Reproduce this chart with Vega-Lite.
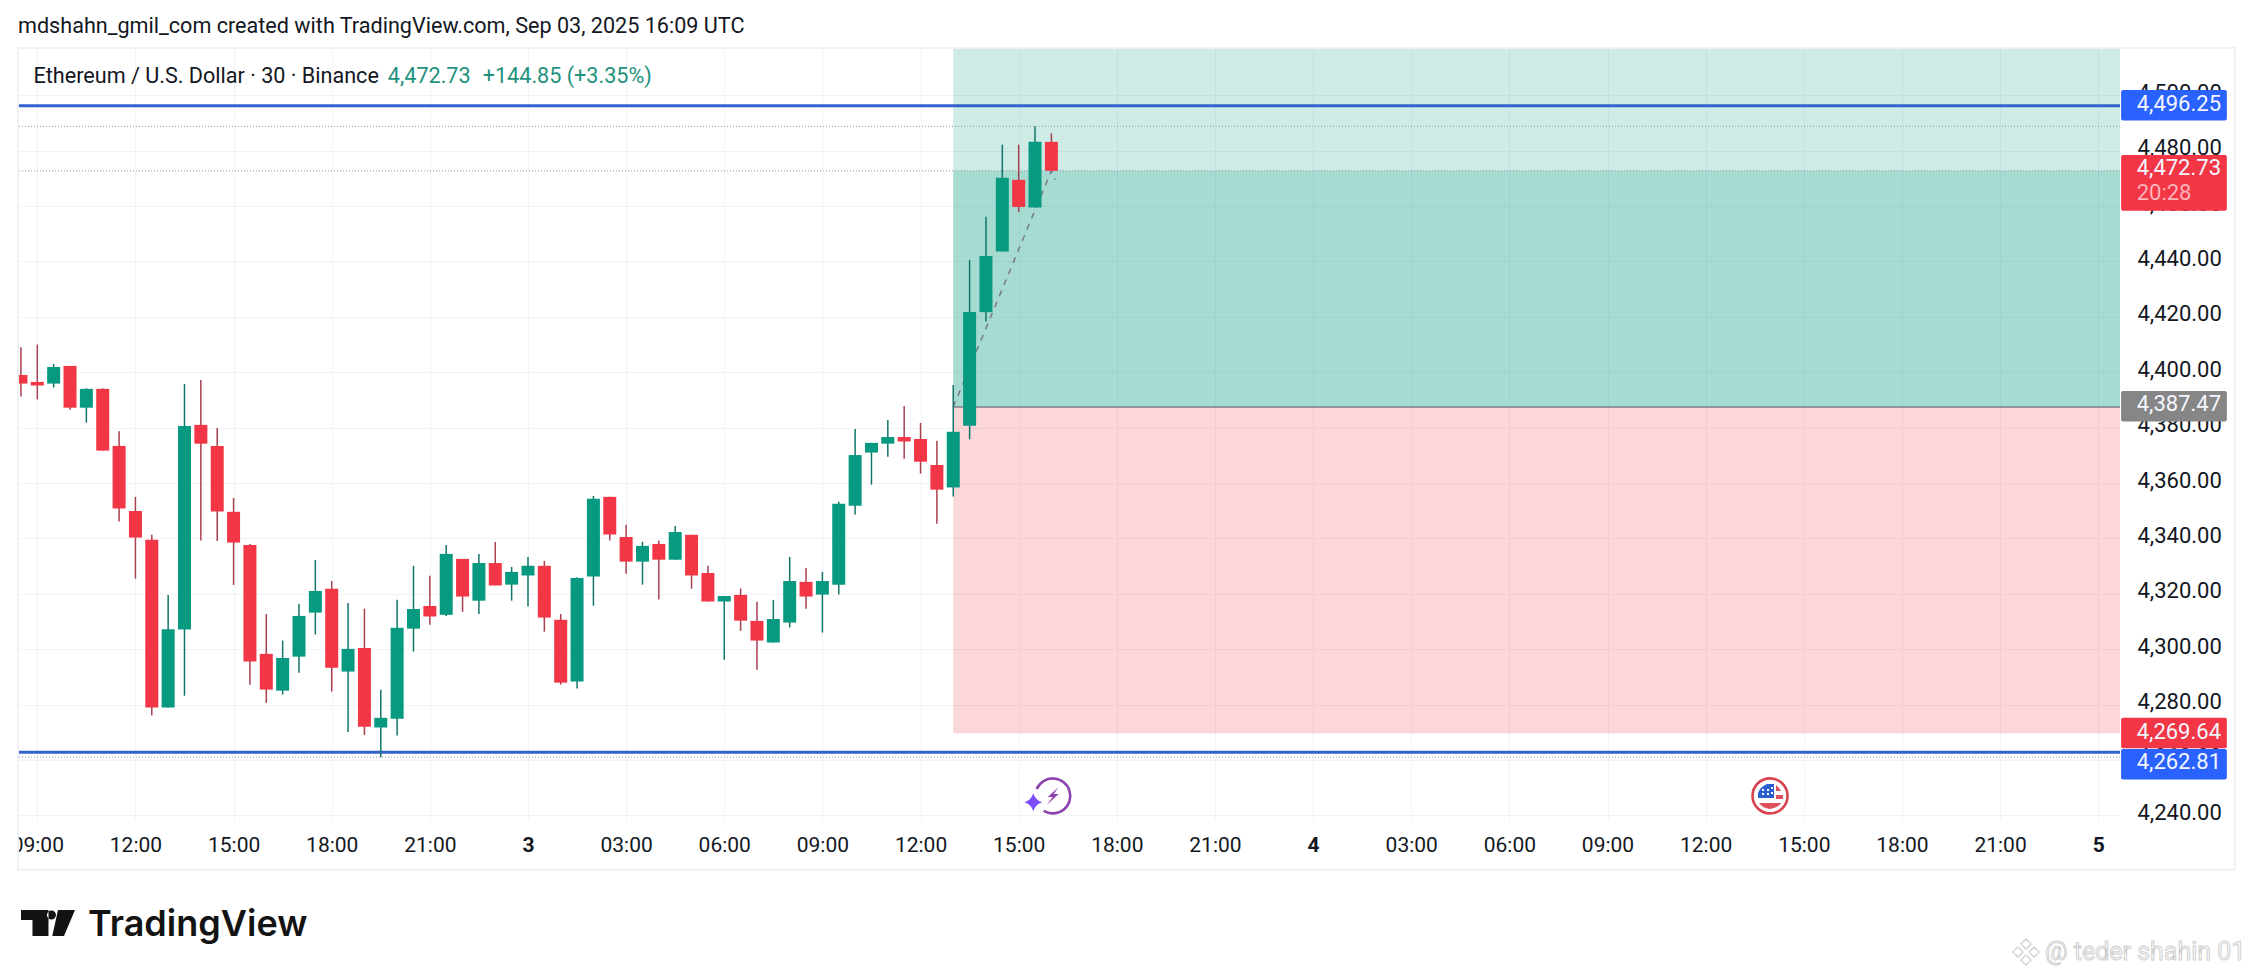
{
  "$schema": "https://vega.github.io/schema/vega-lite/v6.json",
  "description": "ETH/USD 30 minute candles with long position zones",
  "width": 2102,
  "height": 772,
  "autosize": {"type": "none"},
  "padding": {"left": 18, "top": 48, "right": 133, "bottom": 158},
  "background": "#ffffff",
  "title": {"text": "mdshahn_gmil_com created with TradingView.com, Sep 03, 2025 16:09 UTC", "anchor": "start", "frame": "group", "offset": 9, "font": "Roboto", "fontSize": 21.6, "fontWeight": "normal", "color": "#131722"},
  "config": {"view": {"stroke": null}, "font": "Roboto"},
  "resolve": {"scale": {"color": "independent"}},
  "datasets": {
    "zones": [
      {"t": "2025-09-03T13:00:00Z", "t2": "2025-09-05T00:40:00Z", "p": 4387.47, "p2": 4517.1, "zone": "target"},
      {"t": "2025-09-03T13:00:00Z", "t2": "2025-09-05T00:40:00Z", "p": 4387.47, "p2": 4472.73, "zone": "target"},
      {"t": "2025-09-03T13:00:00Z", "t2": "2025-09-05T00:40:00Z", "p": 4269.64, "p2": 4387.47, "zone": "stop"}
    ],
    "levels": [{"p": 4496.25}, {"p": 4262.81}],
    "dotted": [{"p": 4488.8}, {"p": 4472.73}, {"p": 4261.0}],
    "entry": [{"t": "2025-09-03T13:00:00Z", "t2": "2025-09-05T00:40:00Z", "p": 4387.47}],
    "arrow": [
      {"t": "2025-09-03T13:00:00Z", "p": 4387.47},
      {"t": "2025-09-03T16:00:00Z", "p": 4472.73},
      {"t": "2025-09-03T16:07:00Z", "p": 4469.5}
    ],
    "candles": [
      {"t": "2025-09-02T08:30:00Z", "open": 4399.0, "close": 4395.9, "high": 4409.0, "low": 4391.2, "dir": "down"},
      {"t": "2025-09-02T09:00:00Z", "open": 4396.5, "close": 4395.2, "high": 4410.0, "low": 4390.2, "dir": "down"},
      {"t": "2025-09-02T09:30:00Z", "open": 4395.9, "close": 4401.9, "high": 4403.0, "low": 4394.5, "dir": "up"},
      {"t": "2025-09-02T10:00:00Z", "open": 4402.3, "close": 4387.2, "high": 4402.3, "low": 4386.5, "dir": "down"},
      {"t": "2025-09-02T10:30:00Z", "open": 4387.2, "close": 4394.0, "high": 4394.2, "low": 4381.8, "dir": "up"},
      {"t": "2025-09-02T11:00:00Z", "open": 4394.0, "close": 4371.7, "high": 4394.2, "low": 4371.7, "dir": "down"},
      {"t": "2025-09-02T11:30:00Z", "open": 4373.4, "close": 4350.8, "high": 4378.7, "low": 4346.1, "dir": "down"},
      {"t": "2025-09-02T12:00:00Z", "open": 4349.9, "close": 4340.3, "high": 4355.0, "low": 4325.5, "dir": "down"},
      {"t": "2025-09-02T12:30:00Z", "open": 4339.5, "close": 4278.9, "high": 4341.3, "low": 4276.0, "dir": "down"},
      {"t": "2025-09-02T13:00:00Z", "open": 4278.9, "close": 4307.2, "high": 4319.6, "low": 4278.9, "dir": "up"},
      {"t": "2025-09-02T13:30:00Z", "open": 4307.1, "close": 4380.6, "high": 4395.8, "low": 4283.2, "dir": "up"},
      {"t": "2025-09-02T14:00:00Z", "open": 4381.0, "close": 4374.2, "high": 4397.2, "low": 4339.2, "dir": "down"},
      {"t": "2025-09-02T14:30:00Z", "open": 4373.4, "close": 4349.7, "high": 4379.9, "low": 4339.1, "dir": "down"},
      {"t": "2025-09-02T15:00:00Z", "open": 4349.6, "close": 4338.5, "high": 4354.6, "low": 4323.2, "dir": "down"},
      {"t": "2025-09-02T15:30:00Z", "open": 4337.6, "close": 4295.5, "high": 4338.0, "low": 4287.1, "dir": "down"},
      {"t": "2025-09-02T16:00:00Z", "open": 4298.3, "close": 4285.4, "high": 4312.7, "low": 4280.6, "dir": "down"},
      {"t": "2025-09-02T16:30:00Z", "open": 4285.0, "close": 4296.8, "high": 4303.1, "low": 4283.6, "dir": "up"},
      {"t": "2025-09-02T17:00:00Z", "open": 4297.3, "close": 4312.0, "high": 4316.3, "low": 4291.5, "dir": "up"},
      {"t": "2025-09-02T17:30:00Z", "open": 4313.2, "close": 4321.0, "high": 4332.2, "low": 4305.3, "dir": "up"},
      {"t": "2025-09-02T18:00:00Z", "open": 4321.8, "close": 4293.3, "high": 4324.6, "low": 4284.7, "dir": "down"},
      {"t": "2025-09-02T18:30:00Z", "open": 4291.9, "close": 4300.1, "high": 4316.7, "low": 4270.1, "dir": "up"},
      {"t": "2025-09-02T19:00:00Z", "open": 4300.4, "close": 4272.0, "high": 4314.6, "low": 4269.0, "dir": "down"},
      {"t": "2025-09-02T19:30:00Z", "open": 4271.7, "close": 4275.2, "high": 4285.3, "low": 4261.0, "dir": "up"},
      {"t": "2025-09-02T20:00:00Z", "open": 4274.9, "close": 4307.7, "high": 4317.8, "low": 4268.8, "dir": "up"},
      {"t": "2025-09-02T20:30:00Z", "open": 4307.4, "close": 4314.5, "high": 4330.1, "low": 4299.1, "dir": "up"},
      {"t": "2025-09-02T21:00:00Z", "open": 4315.6, "close": 4311.8, "high": 4326.5, "low": 4308.8, "dir": "down"},
      {"t": "2025-09-02T21:30:00Z", "open": 4312.4, "close": 4334.4, "high": 4337.6, "low": 4312.0, "dir": "up"},
      {"t": "2025-09-02T22:00:00Z", "open": 4332.6, "close": 4319.0, "high": 4332.6, "low": 4313.5, "dir": "down"},
      {"t": "2025-09-02T22:30:00Z", "open": 4317.5, "close": 4331.1, "high": 4334.4, "low": 4312.7, "dir": "up"},
      {"t": "2025-09-02T23:00:00Z", "open": 4331.1, "close": 4323.0, "high": 4338.7, "low": 4323.0, "dir": "down"},
      {"t": "2025-09-02T23:30:00Z", "open": 4323.3, "close": 4327.9, "high": 4329.7, "low": 4317.5, "dir": "up"},
      {"t": "2025-09-03T00:00:00Z", "open": 4326.6, "close": 4330.1, "high": 4333.3, "low": 4315.4, "dir": "up"},
      {"t": "2025-09-03T00:30:00Z", "open": 4330.1, "close": 4311.4, "high": 4331.9, "low": 4306.3, "dir": "down"},
      {"t": "2025-09-03T01:00:00Z", "open": 4310.6, "close": 4287.9, "high": 4312.7, "low": 4287.2, "dir": "down"},
      {"t": "2025-09-03T01:30:00Z", "open": 4288.3, "close": 4325.7, "high": 4326.0, "low": 4285.8, "dir": "up"},
      {"t": "2025-09-03T02:00:00Z", "open": 4326.2, "close": 4354.3, "high": 4355.3, "low": 4315.7, "dir": "up"},
      {"t": "2025-09-03T02:30:00Z", "open": 4355.0, "close": 4341.4, "high": 4355.0, "low": 4339.2, "dir": "down"},
      {"t": "2025-09-03T03:00:00Z", "open": 4340.5, "close": 4331.6, "high": 4344.9, "low": 4327.2, "dir": "down"},
      {"t": "2025-09-03T03:30:00Z", "open": 4331.6, "close": 4337.3, "high": 4338.8, "low": 4323.3, "dir": "up"},
      {"t": "2025-09-03T04:00:00Z", "open": 4338.0, "close": 4332.3, "high": 4339.2, "low": 4317.9, "dir": "down"},
      {"t": "2025-09-03T04:30:00Z", "open": 4332.3, "close": 4342.3, "high": 4344.5, "low": 4332.3, "dir": "up"},
      {"t": "2025-09-03T05:00:00Z", "open": 4341.3, "close": 4326.6, "high": 4341.3, "low": 4321.8, "dir": "down"},
      {"t": "2025-09-03T05:30:00Z", "open": 4327.5, "close": 4317.2, "high": 4330.1, "low": 4317.2, "dir": "down"},
      {"t": "2025-09-03T06:00:00Z", "open": 4317.2, "close": 4319.2, "high": 4319.2, "low": 4296.2, "dir": "up"},
      {"t": "2025-09-03T06:30:00Z", "open": 4319.6, "close": 4310.3, "high": 4321.9, "low": 4306.6, "dir": "down"},
      {"t": "2025-09-03T07:00:00Z", "open": 4310.2, "close": 4303.1, "high": 4317.1, "low": 4292.6, "dir": "down"},
      {"t": "2025-09-03T07:30:00Z", "open": 4302.4, "close": 4310.9, "high": 4317.8, "low": 4302.4, "dir": "up"},
      {"t": "2025-09-03T08:00:00Z", "open": 4309.6, "close": 4324.6, "high": 4333.3, "low": 4307.8, "dir": "up"},
      {"t": "2025-09-03T08:30:00Z", "open": 4324.3, "close": 4319.0, "high": 4329.3, "low": 4314.6, "dir": "down"},
      {"t": "2025-09-03T09:00:00Z", "open": 4319.7, "close": 4324.6, "high": 4327.9, "low": 4306.0, "dir": "up"},
      {"t": "2025-09-03T09:30:00Z", "open": 4323.3, "close": 4352.5, "high": 4353.2, "low": 4319.7, "dir": "up"},
      {"t": "2025-09-03T10:00:00Z", "open": 4351.8, "close": 4370.1, "high": 4379.5, "low": 4348.6, "dir": "up"},
      {"t": "2025-09-03T10:30:00Z", "open": 4371.0, "close": 4374.5, "high": 4374.5, "low": 4359.4, "dir": "up"},
      {"t": "2025-09-03T11:00:00Z", "open": 4374.2, "close": 4376.6, "high": 4382.8, "low": 4369.5, "dir": "up"},
      {"t": "2025-09-03T11:30:00Z", "open": 4376.6, "close": 4375.0, "high": 4387.8, "low": 4368.8, "dir": "down"},
      {"t": "2025-09-03T12:00:00Z", "open": 4375.9, "close": 4367.7, "high": 4381.7, "low": 4363.4, "dir": "down"},
      {"t": "2025-09-03T12:30:00Z", "open": 4366.5, "close": 4357.6, "high": 4375.3, "low": 4345.3, "dir": "down"},
      {"t": "2025-09-03T13:00:00Z", "open": 4358.4, "close": 4378.5, "high": 4395.4, "low": 4355.1, "dir": "up"},
      {"t": "2025-09-03T13:30:00Z", "open": 4380.7, "close": 4421.8, "high": 4440.6, "low": 4375.8, "dir": "up"},
      {"t": "2025-09-03T14:00:00Z", "open": 4421.7, "close": 4442.0, "high": 4456.2, "low": 4418.3, "dir": "up"},
      {"t": "2025-09-03T14:30:00Z", "open": 4443.6, "close": 4470.2, "high": 4482.2, "low": 4443.6, "dir": "up"},
      {"t": "2025-09-03T15:00:00Z", "open": 4469.5, "close": 4459.7, "high": 4482.2, "low": 4457.9, "dir": "down"},
      {"t": "2025-09-03T15:30:00Z", "open": 4459.5, "close": 4483.2, "high": 4488.8, "low": 4459.5, "dir": "up"},
      {"t": "2025-09-03T16:00:00Z", "open": 4483.2, "close": 4472.73, "high": 4486.3, "low": 4472.73, "dir": "down"}
    ],
    "tags": [
      {"t": "2025-09-05T00:42:00Z", "t2": "2025-09-05T03:56:00Z", "p": 4490.9, "p2": 4501.9, "tag": "blue"},
      {"t": "2025-09-05T00:42:00Z", "t2": "2025-09-05T03:56:00Z", "p": 4458.3, "p2": 4478.5, "tag": "red"},
      {"t": "2025-09-05T00:42:00Z", "t2": "2025-09-05T03:56:00Z", "p": 4382.2, "p2": 4393.2, "tag": "grey"},
      {"t": "2025-09-05T00:42:00Z", "t2": "2025-09-05T03:56:00Z", "p": 4264.2, "p2": 4275.2, "tag": "red"},
      {"t": "2025-09-05T00:42:00Z", "t2": "2025-09-05T03:56:00Z", "p": 4252.9, "p2": 4263.9, "tag": "blue"}
    ],
    "notes": [
      {"t": "2025-09-05T01:10:36Z", "p": 4497.0, "note": "4,496.25", "kind": "white"},
      {"t": "2025-09-05T01:10:36Z", "p": 4473.8, "note": "4,472.73", "kind": "white"},
      {"t": "2025-09-05T01:10:36Z", "p": 4464.6, "note": "20:28", "kind": "pink"},
      {"t": "2025-09-05T01:10:36Z", "p": 4388.5, "note": "4,387.47", "kind": "white"},
      {"t": "2025-09-05T01:10:36Z", "p": 4270.2, "note": "4,269.64", "kind": "white"},
      {"t": "2025-09-05T01:10:36Z", "p": 4259.2, "note": "4,262.81", "kind": "white"}
    ],
    "legendNotes": [
      {"t": "2025-09-02T08:53:00Z", "p": 4506.8, "note": "Ethereum / U.S. Dollar · 30 · Binance", "kind": "dark"},
      {"t": "2025-09-02T19:43:00Z", "p": 4506.8, "note": "4,472.73", "kind": "green"},
      {"t": "2025-09-02T22:37:00Z", "p": 4506.8, "note": "+144.85 (+3.35%)", "kind": "green"}
    ],
    "mask": [{"t": "2025-09-02T07:50:00Z", "t2": "2025-09-02T08:24:36Z", "p": 4220.3, "p2": 4238.3}],
    "frame": [{"t": "2025-09-02T08:24:36Z", "t2": "2025-09-05T04:11:00Z", "p": 4220.3, "p2": 4517.1}],
    "eventIcon": [{"t": "2025-09-03T16:02:24Z", "p": 4247.0}],
    "sparkle": [{"t": "2025-09-03T15:26:48Z", "p": 4244.7}],
    "flagIcon": [{"t": "2025-09-04T13:58:06Z", "p": 4247.0}],
    "logoIcon": [{"t": "2025-09-02T09:19:36Z", "p": 4201.1}],
    "logoText": [{"t": "2025-09-02T10:33:00Z", "p": 4196.4, "note": "TradingView"}],
    "markIcon": [{"t": "2025-09-04T21:47:36Z", "p": 4190.6}],
    "markText": [{"t": "2025-09-04T22:22:36Z", "p": 4190.6, "note": "@ teder shahin 01"}]
  },
  "layer": [
    {
      "data": {"name": "zones"},
      "mark": {"type": "rect", "opacity": 0.2},
      "encoding": {
        "x": {
          "field": "t", "type": "temporal",
          "scale": {"type": "utc", "domain": ["2025-09-02T08:24:36Z", "2025-09-05T00:40:00Z"], "nice": false, "padding": 0},
          "axis": {
            "title": null, "domain": false, "ticks": false, "grid": true, "gridColor": "#f2f3f6", "gridWidth": 1,
            "values": ["2025-09-02T09:00:00Z", "2025-09-02T12:00:00Z", "2025-09-02T15:00:00Z", "2025-09-02T18:00:00Z", "2025-09-02T21:00:00Z", "2025-09-03T00:00:00Z", "2025-09-03T03:00:00Z", "2025-09-03T06:00:00Z", "2025-09-03T09:00:00Z", "2025-09-03T12:00:00Z", "2025-09-03T15:00:00Z", "2025-09-03T18:00:00Z", "2025-09-03T21:00:00Z", "2025-09-04T00:00:00Z", "2025-09-04T03:00:00Z", "2025-09-04T06:00:00Z", "2025-09-04T09:00:00Z", "2025-09-04T12:00:00Z", "2025-09-04T15:00:00Z", "2025-09-04T18:00:00Z", "2025-09-04T21:00:00Z", "2025-09-05T00:00:00Z"],
            "labelExpr": "utchours(datum.value) == 0 ? utcFormat(datum.value, '%-d') : utcFormat(datum.value, '%H:%M')",
            "labelFontWeight": {"expr": "utchours(datum.value) == 0 ? 'bold' : 'normal'"},
            "labelFont": "Roboto", "labelFontSize": 21, "labelColor": "#131722", "labelBaseline": "middle",
            "labelPadding": 25, "labelOverlap": false, "labelBound": false, "labelFlush": false
          }
        },
        "x2": {"field": "t2"},
        "y": {
          "field": "p", "type": "quantitative",
          "scale": {"domain": [4238.3, 4517.1], "nice": false, "zero": false},
          "axis": {
            "title": null, "orient": "right", "domain": false, "ticks": false, "grid": true, "gridColor": "#f2f3f6", "gridWidth": 1,
            "values": [4240, 4260, 4280, 4300, 4320, 4340, 4360, 4380, 4400, 4420, 4440, 4460, 4480, 4500],
            "format": ",.2f", "labelFont": "Roboto", "labelFontSize": 22, "labelColor": "#131722", "labelAlign": "left",
            "labelBaseline": "middle", "labelOffset": -3, "labelPadding": 17, "labelOverlap": false, "labelBound": false, "labelFlush": false
          }
        },
        "y2": {"field": "p2"},
        "color": {"field": "zone", "type": "nominal", "scale": {"domain": ["target", "stop"], "range": ["#089981", "#F23645"]}, "legend": null}
      }
    },
    {
      "data": {"name": "entry"},
      "mark": {"type": "rule", "color": "#7b8187", "strokeWidth": 1.5},
      "encoding": {"x": {"field": "t", "type": "temporal"}, "x2": {"field": "t2"}, "y": {"field": "p", "type": "quantitative"}}
    },
    {
      "data": {"name": "dotted"},
      "mark": {"type": "rule", "color": "#9598a1", "strokeWidth": 1, "strokeDash": [1, 2]},
      "encoding": {"y": {"field": "p", "type": "quantitative"}}
    },
    {
      "data": {"name": "levels"},
      "mark": {"type": "rule", "color": "#3362cf", "strokeWidth": 3},
      "encoding": {"y": {"field": "p", "type": "quantitative"}}
    },
    {
      "data": {"name": "arrow"},
      "mark": {"type": "line", "color": "#787b86", "strokeWidth": 1.5, "strokeDash": [6, 6]},
      "encoding": {"x": {"field": "t", "type": "temporal"}, "y": {"field": "p", "type": "quantitative"}}
    },
    {
      "data": {"name": "candles"},
      "mark": {"type": "rule", "strokeWidth": 1.5, "clip": true},
      "encoding": {
        "x": {"field": "t", "type": "temporal"},
        "y": {"field": "low", "type": "quantitative"},
        "y2": {"field": "high"},
        "color": {"field": "dir", "type": "nominal", "scale": {"domain": ["up", "down"], "range": ["#12756a", "#a8404f"]}, "legend": null}
      }
    },
    {
      "data": {"name": "candles"},
      "mark": {"type": "bar", "size": 13, "clip": true},
      "encoding": {
        "x": {"field": "t", "type": "temporal"},
        "y": {"field": "open", "type": "quantitative"},
        "y2": {"field": "close"},
        "color": {"field": "dir", "type": "nominal", "scale": {"domain": ["up", "down"], "range": ["#089981", "#F23645"]}, "legend": null}
      }
    },
    {
      "data": {"name": "mask"},
      "mark": {"type": "rect", "color": "#ffffff"},
      "encoding": {"x": {"field": "t", "type": "temporal"}, "x2": {"field": "t2"}, "y": {"field": "p", "type": "quantitative"}, "y2": {"field": "p2"}}
    },
    {
      "data": {"name": "frame"},
      "mark": {"type": "rect", "filled": false, "stroke": "#f0f1f5", "strokeWidth": 2},
      "encoding": {"x": {"field": "t", "type": "temporal"}, "x2": {"field": "t2"}, "y": {"field": "p", "type": "quantitative"}, "y2": {"field": "p2"}}
    },
    {
      "data": {"name": "tags"},
      "mark": {"type": "rect", "cornerRadius": 2},
      "encoding": {
        "x": {"field": "t", "type": "temporal"}, "x2": {"field": "t2"}, "y": {"field": "p", "type": "quantitative"}, "y2": {"field": "p2"},
        "color": {"field": "tag", "type": "nominal", "scale": {"domain": ["blue", "red", "grey"], "range": ["#2962FF", "#F23645", "#868686"]}, "legend": null}
      }
    },
    {
      "data": {"name": "notes"},
      "mark": {"type": "text", "font": "Roboto", "fontSize": 22, "align": "left", "baseline": "middle"},
      "encoding": {
        "x": {"field": "t", "type": "temporal"}, "y": {"field": "p", "type": "quantitative"}, "text": {"field": "note"},
        "color": {"field": "kind", "type": "nominal", "scale": {"domain": ["white", "pink"], "range": ["#f4f6ff", "#fbb4ba"]}, "legend": null}
      }
    },
    {
      "data": {"name": "legendNotes"},
      "mark": {"type": "text", "font": "Roboto", "fontSize": 21.6, "align": "left", "baseline": "middle"},
      "encoding": {
        "x": {"field": "t", "type": "temporal"}, "y": {"field": "p", "type": "quantitative"}, "text": {"field": "note"},
        "color": {"field": "kind", "type": "nominal", "scale": {"domain": ["dark", "green"], "range": ["#131722", "#22917d"]}, "legend": null}
      }
    },
    {
      "data": {"name": "eventIcon"},
      "mark": {"type": "point", "filled": false, "size": 4, "stroke": "#8e44ad", "strokeWidth": 2.6, "opacity": 1, "shape": "M-16,-7 A17.5,17.5 0 1 1 -9,15"},
      "encoding": {"x": {"field": "t", "type": "temporal"}, "y": {"field": "p", "type": "quantitative"}}
    },
    {
      "data": {"name": "eventIcon"},
      "mark": {"type": "point", "filled": true, "size": 4, "color": "#8e44ad", "opacity": 1, "shape": "M6,-9 L-5,1 L0,1 L-6,9 L6,-2 L1,-2 Z"},
      "encoding": {"x": {"field": "t", "type": "temporal"}, "y": {"field": "p", "type": "quantitative"}}
    },
    {
      "data": {"name": "sparkle"},
      "mark": {"type": "point", "filled": true, "size": 4, "color": "#7c4dff", "opacity": 1, "shape": "M0,-9 Q2,-2 9,0 Q2,2 0,9 Q-2,2 -9,0 Q-2,-2 0,-9 Z"},
      "encoding": {"x": {"field": "t", "type": "temporal"}, "y": {"field": "p", "type": "quantitative"}}
    },
    {
      "data": {"name": "flagIcon"},
      "mark": {"type": "point", "filled": false, "size": 1225, "shape": "circle", "stroke": "#d9434f", "strokeWidth": 2.6, "opacity": 1},
      "encoding": {"x": {"field": "t", "type": "temporal"}, "y": {"field": "p", "type": "quantitative"}}
    },
    {
      "data": {"name": "flagIcon"},
      "mark": {"type": "point", "filled": true, "size": 4, "color": "#2a5fd0", "opacity": 1, "shape": "M-12,2 L-12,-3 Q-10,-9 -3,-12 L4,-12 L4,2 Z"},
      "encoding": {"x": {"field": "t", "type": "temporal"}, "y": {"field": "p", "type": "quantitative"}}
    },
    {
      "data": {"name": "flagIcon"},
      "mark": {"type": "point", "filled": true, "size": 4, "color": "#ffffff", "opacity": 1, "shape": "M-8,-7h2v2h-2Z M-3,-7h2v2h-2Z M1,-9h2v2h-2Z M-8,-3h2v2h-2Z M-3,-3h2v2h-2Z M1,-4h2v2h-2Z"},
      "encoding": {"x": {"field": "t", "type": "temporal"}, "y": {"field": "p", "type": "quantitative"}}
    },
    {
      "data": {"name": "flagIcon"},
      "mark": {"type": "point", "filled": true, "size": 4, "color": "#e0505c", "opacity": 1, "shape": "M6,-11 L9,-8 L11,-5 L6,-5 Z M6,-1 L13,-1 L13,3 L6,3 Z M-11,7 L11,7 Q8,12 0,13 Q-8,12 -11,7 Z"},
      "encoding": {"x": {"field": "t", "type": "temporal"}, "y": {"field": "p", "type": "quantitative"}}
    },
    {
      "data": {"name": "logoIcon"},
      "mark": {"type": "point", "filled": true, "size": 4, "color": "#131313", "opacity": 1, "shape": "M-27,-13 H0.5 V13 H-15.5 V-3 H-27 Z M-1,-8 a4.5,4.5 0 1 0 9,0 a4.5,4.5 0 1 0 -9,0 Z M10,-13 H27 L16,13 H4.3 Z"},
      "encoding": {"x": {"field": "t", "type": "temporal"}, "y": {"field": "p", "type": "quantitative"}}
    },
    {
      "data": {"name": "logoText"},
      "mark": {"type": "text", "font": "Inter", "fontSize": 36, "fontWeight": 600, "color": "#131313", "align": "left", "baseline": "alphabetic"},
      "encoding": {"x": {"field": "t", "type": "temporal"}, "y": {"field": "p", "type": "quantitative"}, "text": {"field": "note"}}
    },
    {
      "data": {"name": "markIcon"},
      "mark": {"type": "point", "filled": true, "size": 4, "fill": "#ffffff", "stroke": "#d6d6d6", "strokeWidth": 1.5, "opacity": 1, "shape": "M0,-13 L5,-8 L0,-3 L-5,-8 Z M-8,-5 L-3,0 L-8,5 L-13,0 Z M8,-5 L13,0 L8,5 L3,0 Z M0,3 L5,8 L0,13 L-5,8 Z"},
      "encoding": {"x": {"field": "t", "type": "temporal"}, "y": {"field": "p", "type": "quantitative"}}
    },
    {
      "data": {"name": "markText"},
      "mark": {"type": "text", "font": "Roboto", "fontSize": 25, "align": "left", "baseline": "middle", "fill": "#ffffff", "stroke": "#cfcfcf", "strokeWidth": 1},
      "encoding": {"x": {"field": "t", "type": "temporal"}, "y": {"field": "p", "type": "quantitative"}, "text": {"field": "note"}}
    }
  ]
}
